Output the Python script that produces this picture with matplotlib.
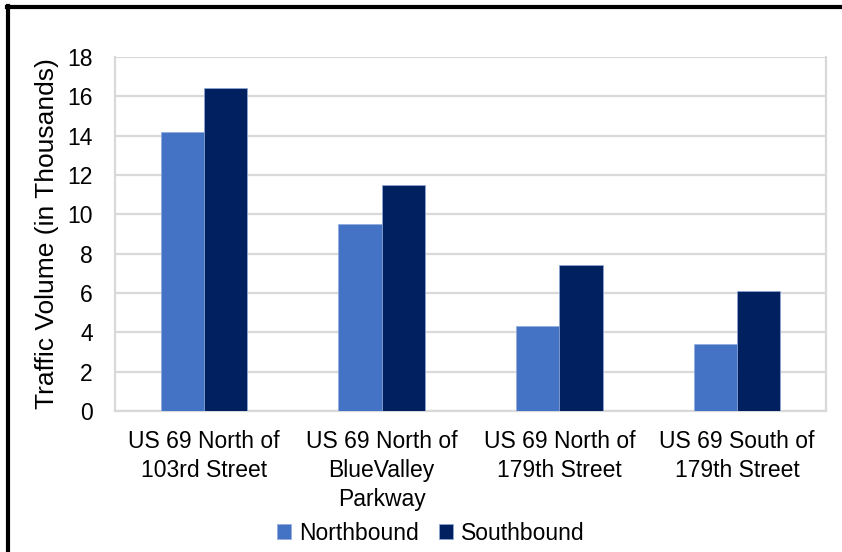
import numpy as np
import matplotlib.pyplot as plt
from matplotlib.lines import Line2D

locations = ["US 69 North of\n103rd Street",
             "US 69 North of\nBlueValley\nParkway",
             "US 69 North of\n179th Street",
             "US 69 South of\n179th Street"]
northbound = [14.2, 9.5, 4.3, 3.4]
southbound = [16.4, 11.5, 7.4, 6.1]

plt.rcParams['font.family'] = ['Liberation Sans', 'DejaVu Sans']

fig = plt.figure(figsize=(8.42, 5.52), dpi=100)
ax = fig.add_axes([0.1366, 0.2554, 0.981 - 0.1366, 0.8967 - 0.2554])

x = np.arange(len(locations))
w = 0.243
ax.bar(x - w / 2, northbound, w, color='#4472C4', edgecolor='#8FAADC', linewidth=0.5, label='Northbound', zorder=3)
ax.bar(x + w / 2, southbound, w, color='#002060', edgecolor='#8FAADC', linewidth=0.5, label='Southbound', zorder=3)

ax.set_xlim(-0.5, len(locations) - 0.5)
ax.set_ylim(0, 18)
ax.set_yticks(range(0, 19, 2))
ax.set_xticks(x)
ax.set_xticklabels(locations, linespacing=1.34)
ax.tick_params(axis='both', length=0, labelsize=16.5, colors='#000000')
ax.tick_params(axis='x', pad=13.5)
ax.tick_params(axis='y', pad=16)
ax.grid(axis='y', color='#D9D9D9', linewidth=1.6, zorder=0)
for side in ['left', 'right', 'bottom']:
    ax.spines[side].set_color('#D9D9D9')
    ax.spines[side].set_linewidth(1.6)
ax.spines['top'].set_visible(False)
ax.set_ylabel('Traffic Volume (in Thousands)', fontsize=19, labelpad=6)

fig.legend(loc='center', bbox_to_anchor=(0.512, 0.034), ncol=2, frameon=False,
           fontsize=16.5, handlelength=0.6, handleheight=0.6, handletextpad=0.35,
           columnspacing=0.9)

# black frame (top and left edges visible)
fig.add_artist(Line2D([7 / 842, 1.0], [1 - 7 / 552, 1 - 7 / 552], color='black', linewidth=3, transform=fig.transFigure))
fig.add_artist(Line2D([8 / 842, 8 / 842], [0, 1 - 6 / 552], color='black', linewidth=3, transform=fig.transFigure))

fig.savefig('out.png', dpi=100)
